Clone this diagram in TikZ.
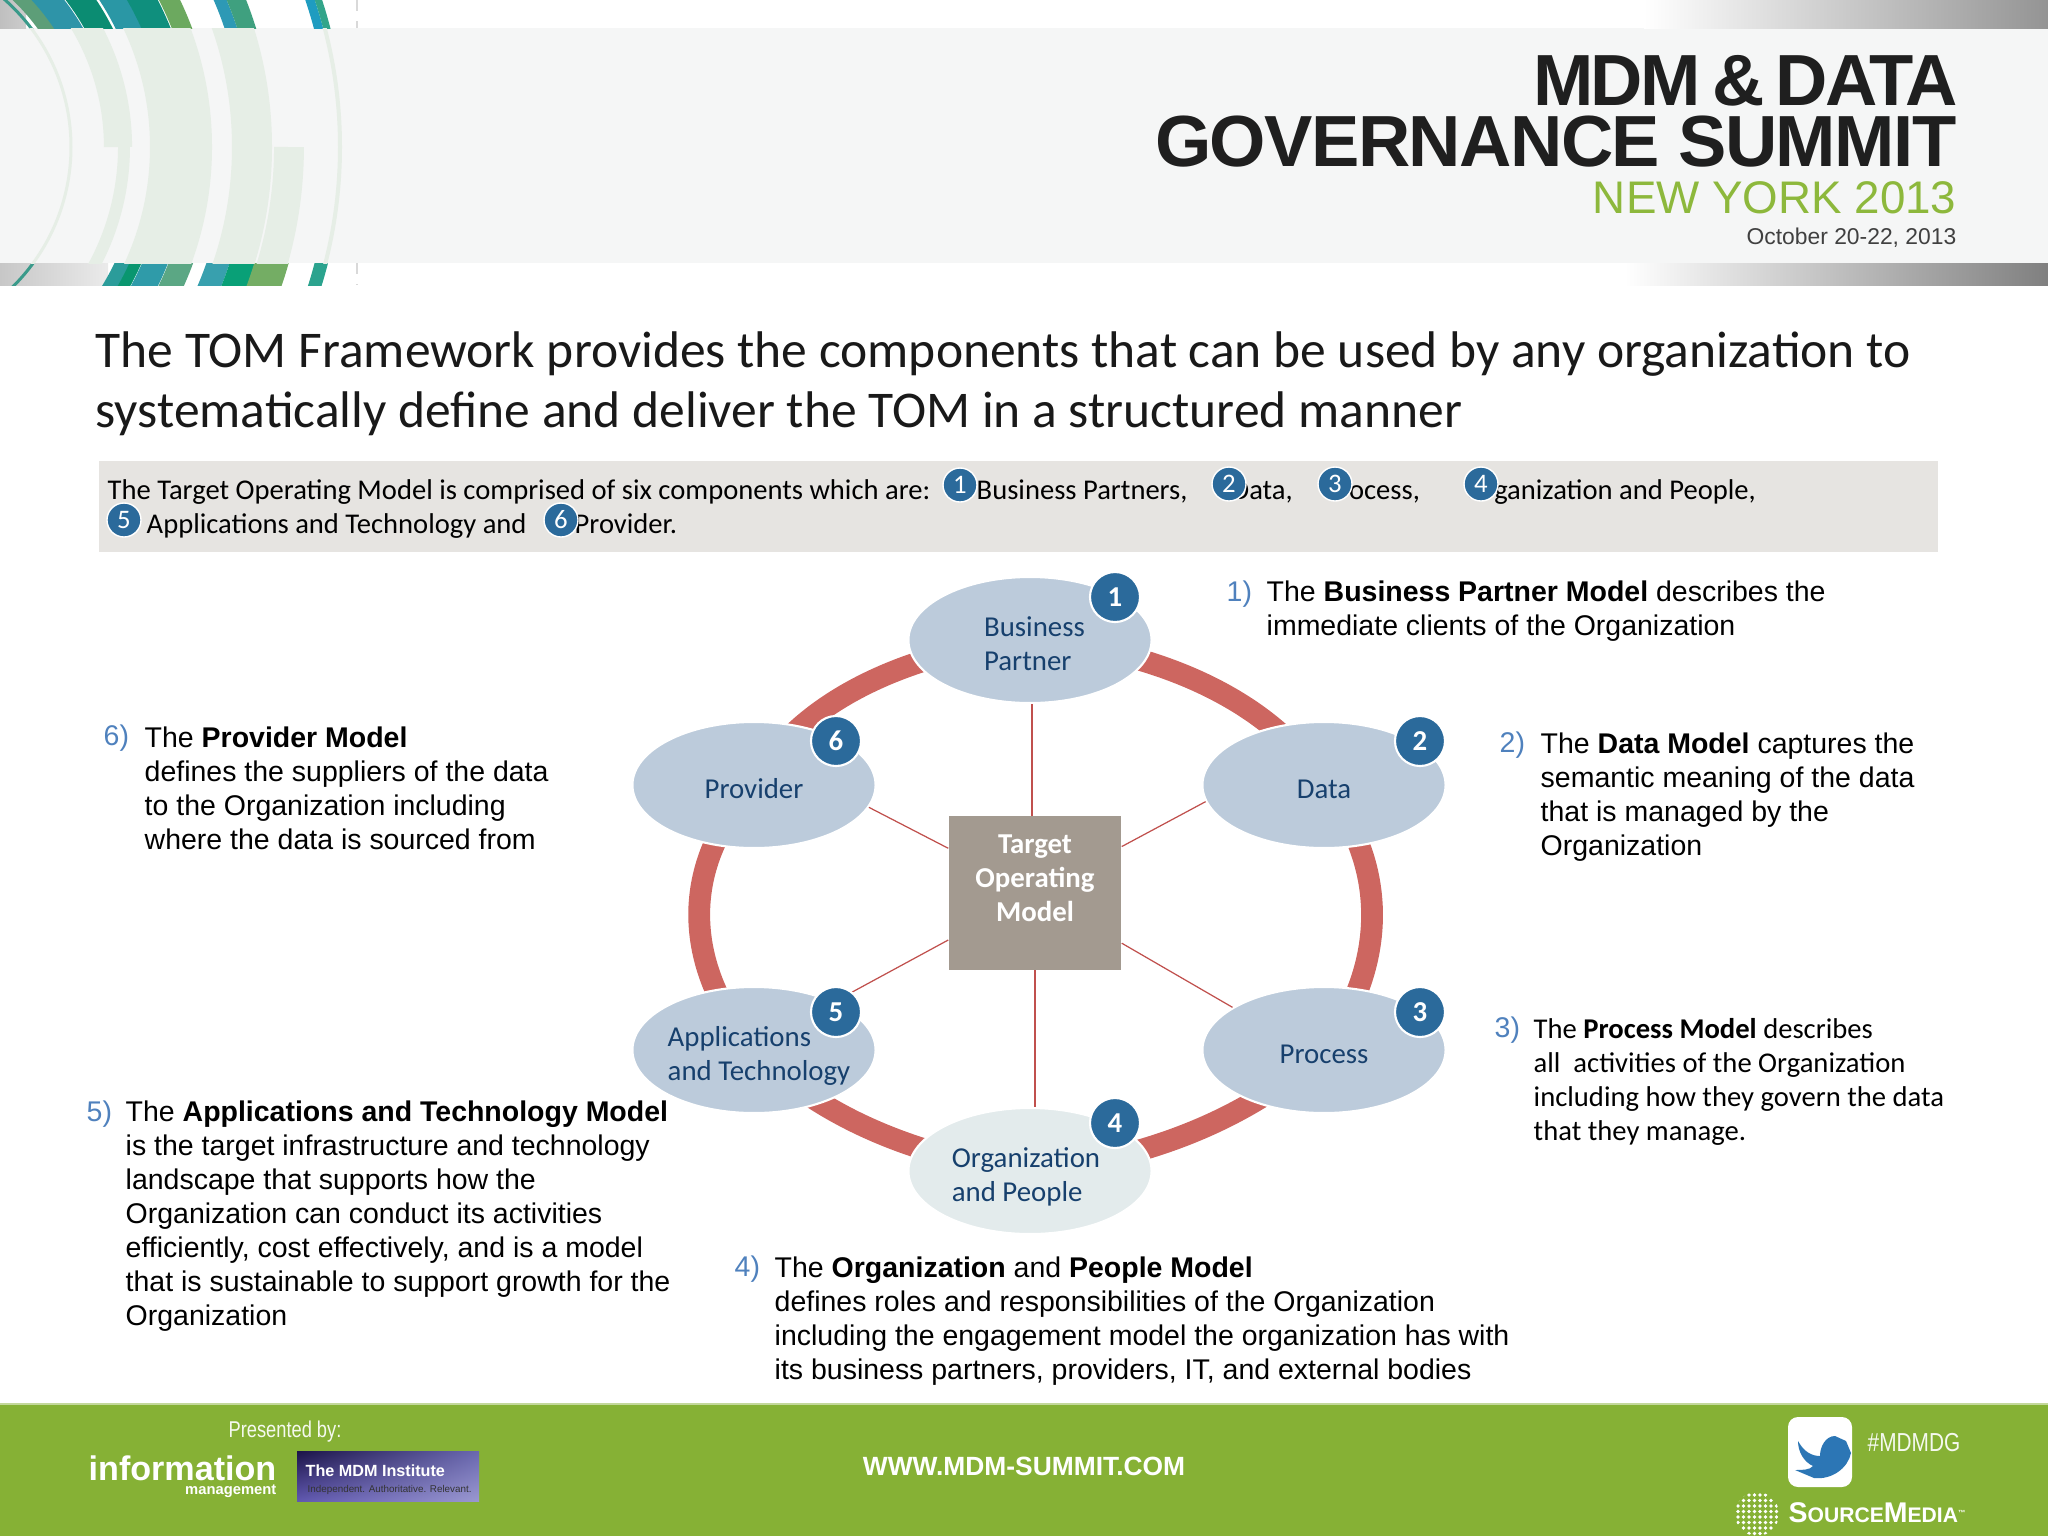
\documentclass[tikz,border=0pt]{standalone}
\usepackage{fontspec}
\setmainfont{Carlito}
\newfontfamily\arialfont{Liberation Sans}
\newfontfamily\headfont[LetterSpace=-3.5]{Liberation Sans}
\newfontfamily\headwide[LetterSpace=-2.2]{Liberation Sans}
\newfontfamily\narrowfont[FakeStretch=0.8]{Liberation Sans}
\usetikzlibrary{positioning,shapes.geometric,backgrounds,shadings}

\definecolor{ringred}{HTML}{CD6660}
\definecolor{spokered}{HTML}{C0504D}
\definecolor{partblue}{HTML}{BCCBDB}
\definecolor{partpale}{HTML}{E3EBEC}
\definecolor{partnavy}{HTML}{17406D}
\definecolor{hubgrey}{HTML}{A39A90}
\definecolor{badgeblue}{HTML}{2B6A9B}
\definecolor{numblue}{HTML}{4F81BD}
\definecolor{stripgrey}{HTML}{E6E4E1}
\definecolor{bandgrey}{HTML}{F5F6F6}
\definecolor{palegreen}{HTML}{E6EEE6}
\definecolor{footgreen}{HTML}{86B135}
\definecolor{yorkgreen}{HTML}{8DB83C}
\definecolor{mdmul}{HTML}{1C1448}
\definecolor{mdmll}{HTML}{6058B0}
\definecolor{mdmur}{HTML}{6A68B0}
\definecolor{mdmlr}{HTML}{9A98D0}

\newcommand{\fs}[2]{\fontsize{#1}{#2}\selectfont}
% text inside an ellipse must not widen it
\newcommand{\parttext}[2]{\raisebox{-.136cm}[0pt][0pt]{\makebox[0pt]{\hspace{#1}\begin{tabular}{@{}l@{}}#2\end{tabular}}}}

\tikzset{
  part/.style={ellipse,fill=partblue,draw=white,line width=.6pt,minimum width=2.43cm,minimum height=1.26cm,inner sep=0pt,text=partnavy,font=\fs{8.2}{9.67}},
  hubbox/.style={rectangle,fill=hubgrey,minimum width=1.72cm,minimum height=1.53cm,inner sep=0pt,align=center,text=white,font=\bfseries\fs{8.2}{9.67}},
  badge/.style={circle,fill=badgeblue,draw=white,line width=.6pt,minimum size=.5cm,inner sep=0pt,text=white,font=\bfseries\fs{8.2}{9.67}},
  minibadge/.style={circle,fill=badgeblue,draw=white,line width=.4pt,minimum size=.34cm,inner sep=0pt,text=white,font=\fs{7.6}{9}},
  ringline/.style={draw=ringred,line width=6.2pt},
  spoke/.style={draw=spokered,line width=.35pt},
  desc/.style={anchor=west,align=left,inner sep=0pt,font=\arialfont\fs{8.1}{9.67}},
  desccal/.style={anchor=west,align=left,inner sep=0pt,font=\fs{8.14}{9.67}},
  num/.style={anchor=west,inner sep=0pt,text=numblue,font=\arialfont\fs{8.1}{9.67}},
  stripline/.style={anchor=west,inner sep=0pt,text height=5.9pt,text depth=1.6pt,font=\fs{8.13}{9.67}},
  foottext/.style={inner sep=0pt,text=white}
}

\begin{document}
\begin{tikzpicture}[x=0.01cm,y=-0.01cm]
\useasboundingbox (0,0) rectangle (2048,1536);

% header band and side strips
\fill[bandgrey] (0,28) rectangle (2048,263);
\shade[left color=white,right color=black!42] (1644,0) rectangle (2048,28);
\shade[left color=white,right color=black!50] (1625,263) rectangle (2048,285);
\shade[left color=black!25,right color=black!20] (0,0) rectangle (26,28);
\shade[left color=black!22,right color=black!8] (0,263) rectangle (108,285);

% arcs, top strip
\begin{scope}
\clip (0,0) rectangle (420,28);
\foreach \rad/\wid/\col in {209/14/5D9E78,228/25/2E94A8,254/25/0B8C72,281/24/2A97A5,306/27/0F8F7D,330/19/6CA95F,376/12/2D99B5,391/18/3FA07F,460/9/1F9CC0,468/7/33A58A,197/3/3A9A8A}
  {\definecolor{arccol}{HTML}{\col}
   \draw[arccol,line width=\wid*0.2845pt] (-126,147) circle[radius=\rad];}
\end{scope}
% arcs, bottom strip
\begin{scope}
\clip (0,263) rectangle (420,285);
\foreach \rad/\wid/\col in {274/14/2B9C9A,286/11/09966F,304/24/2F9BA9,328/23/5BA784,363/22/38A0AE,386/24/09A077,414/33/74AD64,462/13/2BA38E,197/3/3A9A8A}
  {\definecolor{arccol}{HTML}{\col}
   \draw[arccol,line width=\wid*0.2845pt] (-126,147) circle[radius=\rad];}
\end{scope}
% arcs, faded inside the band
\begin{scope}
\clip (0,28) rectangle (420,263);
\foreach \rad/\wid in {197/3,466/4,307/62,378/40}
  {\draw[palegreen,line width=\wid*0.2845pt] (-126,147) circle[radius=\rad];}
\draw[palegreen,line width=8pt] (-126,147) ++(0:244) arc[start angle=0,end angle=-40,radius=244];
\draw[palegreen,line width=3.4pt] (-126,147) ++(0:250) arc[start angle=0,end angle=35,radius=250];
\draw[palegreen,line width=8.5pt] (-126,147) ++(0:415) arc[start angle=0,end angle=32,radius=415];
\end{scope}
\draw[black!15,dashed,line width=.3pt] (357,0) -- (357,28);
\draw[black!15,dashed,line width=.3pt] (357,263) -- (357,285);

% header text
\node[anchor=east,inner sep=0pt,text=black!88,font=\headfont\bfseries\fs{20.6}{24}] (headone) at (1959,81) {MDM\hspace{-.06cm} \&\hspace{-.07cm} DATA};
\node[anchor=east,inner sep=0pt,text=black!88,font=\headwide\bfseries\fs{20.6}{24}] (headtwo) at (1957,142) {GOVERNANCE SUMMIT};
\node[anchor=east,inner sep=0pt,text=yorkgreen,font=\arialfont\fs{13}{15}] (headcity) at (1957,198) {NEW YORK 2013};
\node[anchor=east,inner sep=0pt,text=black!75,font=\arialfont\fs{6.5}{8}] (headdate) at (1957,238) {October 20-22, 2013};

% title
\node[anchor=west,align=left,inner sep=0pt,text=black!90,font=\fs{14.65}{17.07}] (title) at (95,384)
  {The TOM Framework provides the components that can be used by any organization to\\systematically define and deliver the TOM in a structured manner};

% grey strip with the six components
\fill[stripgrey] (99,461) rectangle (1938,552);
\node[stripline] (stripa) at (107,492) {The Target Operating Model is comprised of six components which are:};
\node[stripline] (stripb) at (976,492) {Business Partners,};
\node[stripline] (stripc) at (1231,492) {Data,};
\node[stripline] (stripd) at (1324,492) {Process,};
\node[stripline] (stripe) at (1465,492) {Organization and People,};
\node[stripline] (stripf) at (146,526) {Applications and Technology and};
\node[stripline] (stripg) at (574,526) {Provider.};
\node[minibadge] (miniA) at (960,485) {1};
\node[minibadge] (miniB) at (1229,484) {2};
\node[minibadge] (miniC) at (1335,484) {3};
\node[minibadge] (miniD) at (1481,484) {4};
\node[minibadge] (miniE) at (124,520) {5};
\node[minibadge] (miniF) at (561,520) {6};

% hub and parts
\node[hubbox] (hub) at (1035,893) {Target\\Operating\\Model\\[-.05cm]\mbox{}};
\node[part] (busi) at (1030,640) {\parttext{.09cm}{Business\\Partner}};
\node[part] (data) at (1324,785) {\parttext{0cm}{Data}};
\node[part] (proc) at (1324,1050) {\parttext{0cm}{Process}};
\node[part,fill=partpale] (orga) at (1030,1171) {\parttext{-.08cm}{Organization\\and People}};
\node[part] (apps) at (754,1050) {\parttext{.1cm}{Applications\\and Technology}};
\node[part] (prov) at (754,785) {\parttext{0cm}{Provider}};

% ring and spokes go under the parts
\begin{scope}[on background layer]
\draw[ringline] (busi.center) .. controls (1159,650) and (1273,702) .. (data.center);
\draw[ringline] (data.center) .. controls (1392,869) and (1384,971) .. (proc.center);
\draw[ringline] (proc.center) .. controls (1249,1119) and (1145,1160) .. (orga.center);
\draw[ringline] (orga.center) .. controls (925,1160) and (821,1119) .. (apps.center);
\draw[ringline] (apps.center) .. controls (686,971) and (676,869) .. (prov.center);
\draw[ringline] (prov.center) .. controls (797,702) and (911,650) .. (busi.center);
\end{scope}
\draw[spoke] ([xshift=.02cm]busi.south) -- ([xshift=.02cm]busi.south |- hub.north);
\draw[spoke] (data.188) -- (hub);
\draw[spoke] (proc.155) -- (hub);
\draw[spoke] (orga.north -| hub) -- (hub);
\draw[spoke] (apps.31) -- (hub);
\draw[spoke] (prov.349) -- (hub);

% badges
\node[badge] (bA) at (1115,597) {1};
\node[badge] (bB) at (1420,741) {2};
\node[badge] (bC) at (1420,1012) {3};
\node[badge] (bD) at (1115,1123) {4};
\node[badge] (bE) at (836,1012) {5};
\node[badge] (bF) at (836,741) {6};

% descriptions
\node[num] (numA) at (1226,594) {1)};
\node[desc] (descA) at (1266,611) {The \textbf{Business Partner Model} describes the\\immediate clients of the Organization};
\node[num] (numB) at (1499,745) {2)};
\node[desc] (descB) at (1540,797) {The \textbf{Data Model} captures the\\semantic meaning of the data\\that is managed by the\\Organization};
\node[num] (numC) at (1494,1030) {3)};
\node[desccal] (descC) at (1533,1082) {The \textbf{Process Model} describes\\all\ \ activities of the Organization\\including how they govern the data\\that they manage.};
\node[num] (numD) at (734,1269) {4)};
\node[desc] (descD) at (774,1321) {The \textbf{Organization} and \textbf{People Model}\\defines roles and responsibilities of the Organization\\including the engagement model the organization has with\\its business partners, providers, IT, and external bodies};
\node[num] (numE) at (86,1114) {5)};
\node[desc] (descE) at (125,1216) {The \textbf{Applications and Technology Model}\\is the target infrastructure and technology\\landscape that supports how the\\Organization can conduct its activities\\efficiently, cost effectively, and is a model\\that is sustainable to support growth for the\\Organization};
\node[num] (numF) at (103,738) {6)};
\node[desc] (descF) at (144,788) {The \textbf{Provider Model}\\defines the suppliers of the data\\to the Organization including\\where the data is sourced from};

% footer
\fill[footgreen] (0,1404) rectangle (2048,1536);
\draw[footgreen!50,line width=.4pt] (0,1404) -- (2048,1404);
\node[foottext,text=white!92!footgreen,font=\narrowfont\fs{6.5}{8}] (presented) at (285,1432) {Presented by:};
\node[foottext,anchor=east,font=\arialfont\bfseries\fs{9.7}{11}] (infoname) at (277,1468) {information};
\node[foottext,anchor=east,font=\arialfont\bfseries\fs{4.2}{5}] (infosub) at (277,1491) {management};
\shade[upper left=mdmul,lower left=mdmll,upper right=mdmur,lower right=mdmlr] (297,1451) rectangle (479,1501);
\node[foottext,anchor=west,font=\arialfont\bfseries\fs{4.6}{6}] (mdmname) at (305,1471) {The MDM Institute};
\node[foottext,anchor=west,text=black!80,font=\arialfont\fs{2.8}{4}] (mdmsub) at (307,1490) {Independent. Authoritative. Relevant.};
\node[foottext,font=\arialfont\bfseries\fs{7.5}{9}] (website) at (1024,1466) {WWW.MDM-SUMMIT.COM};
\fill[white,rounded corners=.1cm] (1788,1417) rectangle (1852,1487);
\fill[cyan!60!blue!85!black] (1798,1441) .. controls (1804,1452) and (1812,1456) .. (1820,1456) .. controls (1820,1446) and (1826,1436) .. (1835,1436) -- (1846,1441) -- (1851,1453) .. controls (1848,1468) and (1832,1480) .. (1814,1478) -- (1795,1470) .. controls (1802,1470) and (1810,1470) .. (1813,1466) .. controls (1804,1462) and (1798,1452) .. cycle;
\node[foottext,anchor=west,text=white!92!footgreen,font=\narrowfont\fs{7.4}{9}] (hashtag) at (1867,1443) {\#MDMDG};
\begin{scope}
\clip (1757,1514) circle[radius=22];
\foreach \i in {0,...,7}
  \foreach \j in {0,...,7}
    {\fill[white] (1738+\i*5.5,1495+\j*5.5) circle[radius=1.9];}
\end{scope}
\node[foottext,anchor=west,font=\arialfont\bfseries\fs{6}{7}] (sourcemedia) at (1788,1513) {{\fs{8.1}{7}S}OURCE{\fs{8.1}{7}M}EDIA{\fs{3}{3}\textsuperscript{™}}};
\end{tikzpicture}
\end{document}
